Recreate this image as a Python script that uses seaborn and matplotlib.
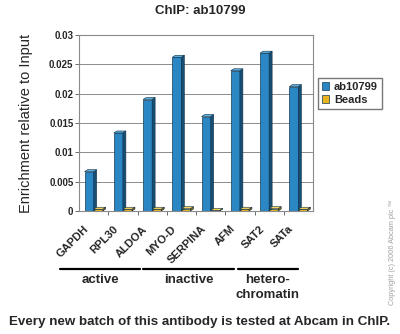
import matplotlib
matplotlib.use("Agg")
import matplotlib.pyplot as plt
import matplotlib.transforms as mtransforms
from matplotlib.lines import Line2D
from matplotlib.patches import Polygon
import seaborn as sns
import pandas as pd

genes = ["GAPDH", "RPL30", "ALDOA", "MYO-D", "SERPINA", "AFM", "SAT2", "SATa"]
ab10799 = [0.0067, 0.0133, 0.0190, 0.0262, 0.0161, 0.0239, 0.0269, 0.0212]
beads = [0.0003, 0.0003, 0.0003, 0.0004, 0.0001, 0.0003, 0.0004, 0.0003]
yticks = [0, 0.005, 0.01, 0.015, 0.02, 0.025, 0.03]
ytick_labels = ["0", "0.005", "0.01", "0.015", "0.02", "0.025", "0.03"]
groups = ["active", "inactive", "hetero-\nchromatin"]

df = pd.DataFrame({
    "gene": genes * 2,
    "value": ab10799 + beads,
    "series": ["ab10799"] * len(genes) + ["Beads"] * len(genes),
})

sns.set_theme(style="white")
plt.rcParams["font.family"] = ["Liberation Sans", "DejaVu Sans"]

W, H, DPI = 400, 334, 100
fig = plt.figure(figsize=(W / DPI, H / DPI), dpi=DPI)
ax = fig.add_axes([79 / W, 1 - 211 / H, 234 / W, 176 / H])

front = {"ab10799": "#2b87c3", "Beads": "#e9b422"}
side = {"ab10799": "#174f74", "Beads": "#8a6410"}
top = {"ab10799": "#5aaee0", "Beads": "#f6d35a"}
sns.barplot(data=df, x="gene", y="value", hue="series", palette=front,
            width=0.62, ax=ax, edgecolor="#123a55", linewidth=0.5,
            saturation=1, legend=True)

ax.set_ylim(0, 0.03)
ax.set_xlim(-0.5, len(genes) - 0.5)

# extruded side and top faces give the bars a 3-D look
dx, dy = 3.0, 2.0
ident = mtransforms.IdentityTransform()
for cont, name in zip(ax.containers, ["ab10799", "Beads"]):
    for p in cont.patches:
        x0, x1 = p.get_x(), p.get_x() + p.get_width()
        h = p.get_height()
        (ax0, ay0), (ax1, ay1) = ax.transData.transform([(x0, 0), (x1, h)])
        side_poly = Polygon([(ax1, ay0), (ax1 + dx, ay0 + dy),
                             (ax1 + dx, ay1 + dy), (ax1, ay1)],
                            closed=True, transform=ident, facecolor=side[name],
                            edgecolor="#0e2d44", linewidth=0.4, zorder=p.get_zorder())
        top_poly = Polygon([(ax0, ay1), (ax0 + dx, ay1 + dy),
                            (ax1 + dx, ay1 + dy), (ax1, ay1)],
                           closed=True, transform=ident, facecolor=top[name],
                           edgecolor="#0e2d44", linewidth=0.4, zorder=p.get_zorder())
        ax.add_artist(side_poly)
        ax.add_artist(top_poly)

ax.set_yticks(yticks)
ax.set_yticklabels(ytick_labels, fontsize=7, fontweight="bold")
ax.yaxis.grid(True, color="#7a7a7a", linewidth=0.6)
ax.set_axisbelow(True)
for s in ax.spines.values():
    s.set_color("#8a8a8a")
    s.set_linewidth(0.8)
ax.tick_params(axis="y", length=3, width=0.6, color="#555555", pad=1, left=True)
ax.set_xticks([i + 0.5 for i in range(len(genes) - 1)], minor=True)
ax.tick_params(axis="x", which="major", length=0)
ax.tick_params(axis="x", which="minor", length=3, width=0.6, color="#555555",
               bottom=True)

ax.set_xlabel("")
ax.set_ylabel("Enrichment relative to Input", fontsize=10.5, fontweight="normal")
ax.yaxis.set_label_coords(-46 / 234, 0.5)

ax.set_xticks(range(len(genes)))
ax.set_xticklabels(genes, rotation=45, ha="right", rotation_mode="anchor",
                   fontsize=8, fontweight="bold")
offset = mtransforms.ScaledTranslation(-10 / DPI, -8 / DPI, fig.dpi_scale_trans)
for lbl in ax.get_xticklabels():
    lbl.set_transform(lbl.get_transform() + offset)

leg = ax.legend(loc="upper left", bbox_to_anchor=(1.02, 0.755), frameon=True,
                fontsize=8, handlelength=0.7, handleheight=0.7,
                handletextpad=0.4, borderpad=0.35, labelspacing=0.25,
                borderaxespad=0, fancybox=False, edgecolor="#555555")
for t in leg.get_texts():
    t.set_fontweight("bold")

fig.text(0.5, 1 - 11 / H, "ChIP: ab10799", ha="center", va="center",
         fontsize=9.5, fontweight="bold")

# group brackets under the gene labels
spans = [(60, 140), (143, 234), (238, 298)]
y_line = 1 - 269 / H
for (x0, x1), name in zip(spans, groups):
    fig.add_artist(Line2D([x0 / W, x1 / W], [y_line, y_line],
                          color="black", linewidth=1.6))
    fig.text((x0 + x1) / 2 / W, 1 - 274 / H, name, ha="center", va="top",
             fontsize=9.5, fontweight="bold", linespacing=1.35)

fig.text(0.5, 1 - 322 / H,
         "Every new batch of this antibody is tested at Abcam in ChIP.",
         ha="center", va="center", fontsize=9.6, fontweight="bold")
fig.text(393 / W, 1 - 252 / H, "Copyright (c) 2006 Abcam plc \u2122",
         rotation=90, ha="center", va="center", fontsize=5.3, color="#a0a0a0")

fig.savefig("out.png", dpi=DPI)
